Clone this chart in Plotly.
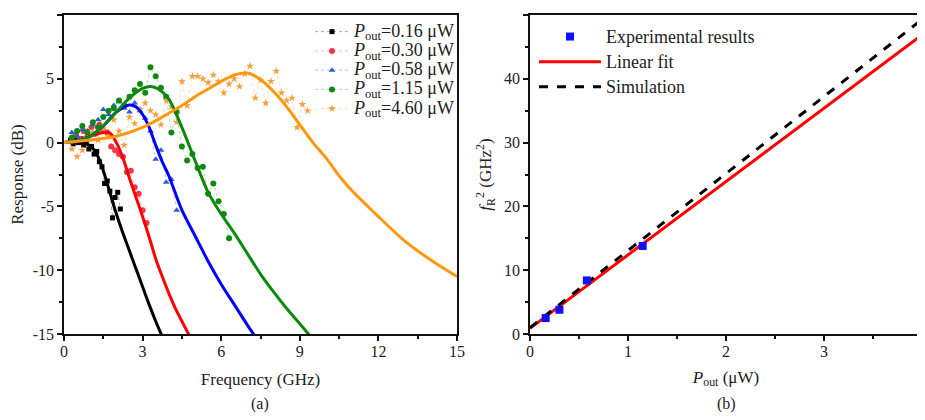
import plotly.graph_objects as go

# ---------------- Panel (a): measured response points ----------------
f_016 = [0.25, 0.35, 0.45, 0.55, 0.65, 0.75, 0.85, 0.95, 1.05, 1.15, 1.25, 1.35, 1.45, 1.55, 1.65, 1.75, 1.85, 1.95, 2.05, 2.15]
r_016 = [0.2, -0.1, 0.4, 0.0, 0.3, -0.2, 0.1, -0.5, -0.3, -0.9, -0.7, -1.5, -1.9, -3.2, -3.0, -3.8, -5.9, -4.3, -3.9, -5.2]

f_030 = [0.3, 0.45, 0.6, 0.75, 0.9, 1.05, 1.2, 1.35, 1.5, 1.65, 1.8, 1.95, 2.1, 2.25, 2.4, 2.55, 2.7, 2.85, 3.0, 3.15]
r_030 = [0.1, 0.6, 0.3, 0.9, 0.5, 1.2, 0.7, 1.4, 0.9, 0.8, -0.3, -0.6, -0.9, -1.1, -2.3, -2.2, -3.5, -4.0, -5.3, -6.3]

f_058 = [0.3, 0.5, 0.7, 0.9, 1.1, 1.3, 1.5, 1.7, 1.9, 2.1, 2.3, 2.5, 2.7, 2.9, 3.1, 3.3, 3.5, 3.7, 3.9, 4.1, 4.3]
r_058 = [0.8, 0.5, 1.0, 0.9, 1.4, 1.8, 2.6, 2.2, 2.9, 3.2, 2.7, 2.4, 3.1, 2.5, 1.9, 0.9, -1.3, -0.6, -3.1, -2.9, -5.3]

f_115 = [0.3, 0.5, 0.7, 0.9, 1.1, 1.3, 1.5, 1.7, 1.9, 2.1, 2.3, 2.5, 2.7, 2.9, 3.1, 3.3, 3.5, 3.7, 3.9, 4.1, 4.3, 4.5, 4.7, 4.9, 5.1, 5.3, 5.5, 5.7, 5.9, 6.1, 6.3]
r_115 = [0.4, 0.9, 1.3, 0.8, 1.6, 1.2, 2.0, 2.5, 2.7, 3.3, 2.9, 3.6, 4.1, 4.6, 3.9, 5.9, 5.2, 4.3, 3.6, 0.8, 2.4, -0.3, -1.4, -0.9, -2.0, -1.9, -4.0, -3.2, -4.6, -5.6, -7.5]

f_460 = [0.3, 0.5, 0.7, 0.9, 1.1, 1.3, 1.5, 1.7, 1.9, 2.1, 2.3, 2.5, 2.7, 2.9, 3.1, 3.3, 3.5, 3.7, 3.9, 4.1, 4.3, 4.5, 4.7, 4.9, 5.1, 5.3, 5.5, 5.7, 5.9, 6.1, 6.3, 6.5, 6.7, 6.9, 7.1, 7.3, 7.5, 7.7, 7.9, 8.1, 8.3, 8.5, 8.7, 8.9, 9.1, 9.3]
r_460 = [-0.5, -1.1, -0.6, 0.3, 0.8, 0.2, 1.1, 0.5, 1.8, 0.9, -0.2, 2.0, 1.5, 2.6, 3.1, 2.5, 2.2, 1.4, 3.3, 2.8, 1.6, 4.8, 2.9, 5.2, 5.2, 5.0, 4.7, 5.3, 4.8, 3.9, 4.6, 5.0, 4.4, 5.4, 6.0, 3.5, 4.9, 3.1, 4.8, 5.6, 3.9, 3.3, 3.5, 1.2, 3.0, 2.5]

# ---------------- Panel (a): fitted curves ----------------
ff_016 = [0, 0.5, 1.0, 1.25, 1.5, 1.75, 2.0, 2.25, 2.5, 2.75, 3.0, 3.25, 3.5, 3.75, 4.0]
fr_016 = [0, 0.05, -0.25, -0.9, -2.2, -3.9, -5.6, -7.1, -8.5, -9.9, -11.3, -12.7, -14.0, -15.2, -16.4]

ff_030 = [0, 0.5, 1.0, 1.5, 1.75, 2.0, 2.25, 2.5, 2.75, 3.0, 3.25, 3.5, 3.75, 4.0, 4.25, 4.5, 4.75, 5.0]
fr_030 = [0, 0.15, 0.5, 0.8, 0.75, 0.0, -1.2, -2.8, -4.3, -5.8, -7.4, -9.1, -10.5, -11.8, -13.0, -14.0, -15.0, -16.0]

ff_058 = [0, 0.5, 1.0, 1.5, 2.0, 2.5, 2.75, 3.0, 3.25, 3.5, 3.75, 4.0, 4.5, 5.0, 5.5, 6.0, 6.5, 7.0, 7.5]
fr_058 = [0, 0.15, 0.5, 1.3, 2.4, 2.95, 2.8, 2.2, 1.2, -0.2, -1.5, -2.6, -5.3, -7.3, -9.3, -11.1, -12.7, -14.3, -15.8]

ff_115 = [0, 0.5, 1.0, 1.5, 2.0, 2.5, 3.0, 3.3, 3.6, 4.0, 4.5, 5.0, 5.5, 6.0, 6.5, 7.0, 7.5, 8.0, 8.5, 9.0, 9.5]
fr_115 = [0, 0.15, 0.5, 1.3, 2.4, 3.5, 4.25, 4.4, 4.2, 3.4, 1.2, -1.4, -3.9, -5.6, -7.1, -8.7, -10.3, -11.7, -13.0, -14.2, -15.4]

ff_460 = [0, 1, 2, 3, 3.5, 4, 4.5, 5, 5.5, 6, 6.5, 7, 7.5, 8, 8.5, 9, 9.5, 10, 10.5, 11, 11.5, 12, 13, 14, 15]
fr_460 = [0, 0.2, 0.5, 1.2, 1.7, 2.3, 2.9, 3.6, 4.2, 4.8, 5.3, 5.45, 4.95, 4.0, 2.8, 1.4, 0.0, -1.2, -2.6, -3.8, -4.8, -5.8, -7.7, -9.2, -10.5]

legend_names = ["0.16", "0.30", "0.58", "1.15", "4.60"]

# tick values / labels
xa_ticks = [0, 3, 6, 9, 12, 15]
ya_ticks = [-15, -10, -5, 0, 5, 10]
ya_ticktext = ["-15", "-10", "-5", "0", "5", "10"]
xb_ticks = [0, 1, 2, 3, 4]
yb_ticks = [0, 10, 20, 30, 40, 50]

# ---------------- Panel (b) ----------------
p_exp = [0.16, 0.30, 0.58, 1.15]
fr2_exp = [2.5, 3.8, 8.4, 13.8]
p_line = [0, 4]
fr2_fit = [0.9, 46.9]
fr2_sim = [1.0, 49.3]

FONT = "Liberation Serif, Times New Roman, serif"
TXT = "#222222"

fig = go.Figure()

series = [
    (f_016, r_016, ff_016, fr_016, "square", "#000000", "rgba(0,0,0,0.35)", "#000000", 5),
    (f_030, r_030, ff_030, fr_030, "circle", "#f0384a", "rgba(240,56,74,0.35)", "#ff0000", 6),
    (f_058, r_058, ff_058, fr_058, "triangle-up", "#2a5fd0", "rgba(42,95,208,0.35)", "#0000ff", 6),
    (f_115, r_115, ff_115, fr_115, "circle", "#108a10", "rgba(16,138,16,0.35)", "#0a8a0a", 6),
    (f_460, r_460, ff_460, fr_460, "star", "#f5a040", "rgba(245,160,64,0.35)", "#ff980f", 6),
]

for (fx, ry, fxf, ryf, sym, mcol, lcol, fcol, msz), nm in zip(series, legend_names):
    fig.add_trace(go.Scatter(
        x=fx, y=ry, mode="lines+markers",
        name=f"<span style='font-size:18px'><i>P</i><sub>out</sub>={nm} μW</span>",
        marker=dict(symbol=sym, size=msz, color=mcol, line=dict(width=0)),
        line=dict(color=lcol, width=1, dash="dot"),
        xaxis="x", yaxis="y", legend="legend",
    ))

for (fx, ry, fxf, ryf, sym, mcol, lcol, fcol, msz) in series:
    fig.add_trace(go.Scatter(
        x=fxf, y=ryf, mode="lines", showlegend=False,
        line=dict(color=fcol, width=3, shape="spline", smoothing=0.8),
        xaxis="x", yaxis="y", hoverinfo="skip",
    ))

fig.add_trace(go.Scatter(
    x=p_line, y=fr2_fit, mode="lines", name="<span style='font-size:18px'>Linear fit</span>",
    line=dict(color="#ff0000", width=3),
    xaxis="x2", yaxis="y2", legend="legend2", legendrank=2,
))
fig.add_trace(go.Scatter(
    x=p_line, y=fr2_sim, mode="lines", name="<span style='font-size:18px'>Simulation</span>",
    line=dict(color="#000000", width=3, dash="dash"),
    xaxis="x2", yaxis="y2", legend="legend2", legendrank=3,
))
fig.add_trace(go.Scatter(
    x=p_exp, y=fr2_exp, mode="markers", name="<span style='font-size:18px'>Experimental results</span>",
    marker=dict(symbol="square", size=8, color="#1010ff"),
    xaxis="x2", yaxis="y2", legend="legend2", legendrank=1,
))

# page is drawn with an 8px body offset; keep the figure inside the window
OFF = 8
W, H = 925 - OFF, 420 - 2 * OFF
ML = 64 - OFF
MT = 15 - OFF
MR = W - (922 - OFF)
MB = H - (334 - OFF)
PW, PH = W - ML - MR, H - MT - MB


def px_x(p):
    return (p - OFF - ML) / PW


def px_y(q):
    return (H - MB - (q - OFF)) / PH


axis_common = dict(
    showgrid=False, zeroline=False, showline=True, linecolor="#111111", linewidth=1.5,
    mirror=True, ticks="outside", ticklen=5, tickwidth=1.5, tickcolor="#111111",
    automargin=False,
    tickfont=dict(family=FONT, size=16, color=TXT),
    title_font=dict(family=FONT, size=17, color=TXT),
)
minor_common = dict(ticks="outside", ticklen=3, tickwidth=1.5, tickcolor="#111111")

fig.update_layout(
    width=W, height=H,
    margin=dict(l=ML, r=MR, t=MT, b=MB, autoexpand=False),
    paper_bgcolor="white", plot_bgcolor="white",
    font=dict(family=FONT, color=TXT),
    xaxis=dict(axis_common, domain=[0, px_x(457)], range=[0, 15], tickvals=xa_ticks,
               minor=dict(minor_common, dtick=1.5, tick0=0), ticklabelstandoff=-3,
               title=dict(text="Frequency (GHz)", standoff=14), anchor="y"),
    yaxis=dict(axis_common, domain=[0, 1], range=[-15, 10], tickvals=ya_ticks, ticktext=ya_ticktext,
               minor=dict(minor_common, dtick=2.5, tick0=0),
               title=dict(text="Response (dB)", standoff=8), anchor="x"),
    xaxis2=dict(axis_common, domain=[px_x(530), 1], range=[0, 4], tickvals=xb_ticks,
                minor=dict(minor_common, dtick=0.5, tick0=0), ticklabelstandoff=-3,
                ticklabeloverflow="allow",
                title=dict(text="<i>P</i><sub>out</sub> (μW)", standoff=12), anchor="y2"),
    yaxis2=dict(axis_common, domain=[0, 1], range=[0, 50], tickvals=yb_ticks,
                minor=dict(minor_common, dtick=5, tick0=0),
                title=dict(text="<i>f</i><sub>R</sub><sup>2</sup> (GHz<sup>2</sup>)", standoff=8), anchor="x2"),
    legend=dict(x=px_x(460), xanchor="right", y=px_y(17), yanchor="top",
                bgcolor="rgba(0,0,0,0)", borderwidth=0, itemwidth=34,
                font=dict(family=FONT, size=12.5, color=TXT), tracegroupgap=0),
    legend2=dict(x=px_x(534), xanchor="left", y=px_y(19), yanchor="top",
                 bgcolor="rgba(0,0,0,0)", borderwidth=0, itemwidth=62, traceorder="normal",
                 font=dict(family=FONT, size=17, color=TXT)),
    showlegend=True,
    annotations=[
        dict(text="(a)", x=px_x(260), y=px_y(404), xref="paper", yref="paper", showarrow=False,
             xanchor="center", yanchor="middle", font=dict(family=FONT, size=16, color=TXT)),
        dict(text="(b)", x=px_x(726), y=px_y(404), xref="paper", yref="paper", showarrow=False,
             xanchor="center", yanchor="middle", font=dict(family=FONT, size=16, color=TXT)),
    ],
)

fig.write_html("out.html")
